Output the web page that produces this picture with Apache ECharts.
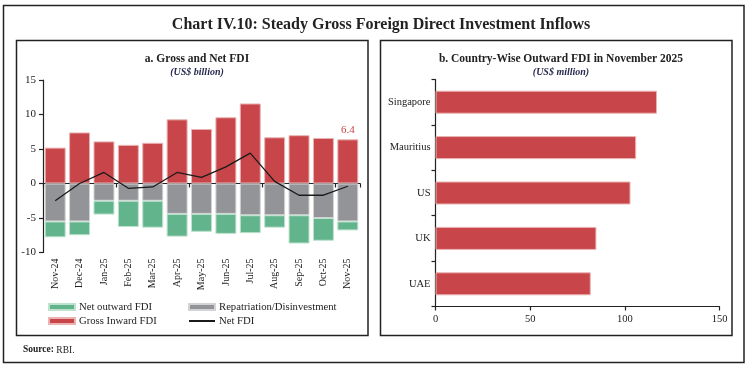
<!DOCTYPE html>
<html>
<head>
<meta charset="utf-8">
<script src="https://cdn.jsdelivr.net/npm/echarts@6/dist/echarts.min.js"></script>
<style>html,body{margin:0;padding:0;background:#fff}#c{width:751px;height:368px}</style>
</head>
<body>
<div id="c"></div>
<script>
const months = ['Nov-24','Dec-24','Jan-25','Feb-25','Mar-25','Apr-25','May-25','Jun-25','Jul-25','Aug-25','Sep-25','Oct-25','Nov-25'];
const grossInward = [5.2, 7.4, 6.1, 5.6, 5.9, 9.3, 7.9, 9.6, 11.6, 6.7, 7.0, 6.6, 6.4];
const repatriation = [-5.5, -5.5, -2.5, -2.5, -2.5, -4.4, -4.4, -4.4, -4.6, -4.6, -4.6, -5.0, -5.5];
const netOutward = [-2.3, -2.0, -2.0, -3.8, -3.9, -3.3, -2.6, -2.9, -2.6, -1.8, -4.1, -3.3, -1.3];
const netFDI = [-2.5, 0.0, 1.6, -0.7, -0.5, 1.6, 0.9, 2.4, 4.4, 0.3, -1.7, -1.7, -0.4];
const leftTicks = [-10, -5, 0, 5, 10, 15];

const countries = ['Singapore','Mauritius','US','UK','UAE'];
const outwardFDI = [117, 106, 103, 85, 82];
const rightTicks = [0, 50, 100, 150];

const FONT = 'Liberation Serif';
const RED = '#C8464A', GRAY = '#939497', GREEN = '#62B48C', INK = '#222';
const last = months.length - 1;

const chart = echarts.init(document.getElementById('c'), null, {renderer: 'canvas'});

const legendCommon = {
  orient: 'horizontal', itemWidth: 26, itemHeight: 6, padding: 0, itemGap: 0,
  textStyle: {fontFamily: FONT, fontSize: 10.7, color: INK, lineHeight: 12, padding: [0, 0, 0, -1]},
  selectedMode: false
};

chart.setOption({
  animation: false,
  textStyle: {fontFamily: FONT},
  title: [
    {text: 'Chart IV.10: Steady Gross Foreign Direct Investment Inflows', left: 376, top: 12, textAlign: 'center',
     textStyle: {fontFamily: FONT, fontSize: 16, fontWeight: 'bold', color: INK}},
    {text: 'a. Gross and Net FDI', left: 192, top: 48, textAlign: 'center',
     textStyle: {fontFamily: FONT, fontSize: 11.5, fontWeight: 'bold', color: INK}},
    {text: '(US$ billion)', left: 192, top: 62, textAlign: 'center',
     textStyle: {fontFamily: FONT, fontSize: 10, fontStyle: 'italic', color: '#2a2a50'}},
    {text: 'b. Country-Wise Outward FDI in November 2025', left: 556, top: 48, textAlign: 'center',
     textStyle: {fontFamily: FONT, fontSize: 11.5, fontWeight: 'bold', color: INK}},
    {text: '(US$ million)', left: 556, top: 62, textAlign: 'center',
     textStyle: {fontFamily: FONT, fontSize: 10, fontStyle: 'italic', color: '#2a2a50'}},
    {text: '{b|Source:} RBI.', left: 18, top: 340,
     textStyle: {fontFamily: FONT, fontSize: 9.5, color: INK, fontWeight: 'normal',
       rich: {b: {fontFamily: FONT, fontSize: 9.5, fontWeight: 'bold', color: INK}}}}
  ],
  graphic: [
    {type: 'rect', shape: {x: 3.5, y: 5.5, width: 740.5, height: 357}, style: {fill: 'none', stroke: INK, lineWidth: 1.5}, silent: true},
    {type: 'rect', shape: {x: 16.5, y: 40.5, width: 351.5, height: 295}, style: {fill: 'none', stroke: INK, lineWidth: 1.5}, silent: true},
    {type: 'rect', shape: {x: 380.5, y: 40.5, width: 351.5, height: 295}, style: {fill: 'none', stroke: INK, lineWidth: 1.5}, silent: true}
  ],
  legend: [
    Object.assign({}, legendCommon, {left: 48, top: 301, data: [{name: 'Net outward FDI', icon: 'rect'}]}),
    Object.assign({}, legendCommon, {left: 48, top: 315, data: [{name: 'Gross Inward FDI', icon: 'rect'}]}),
    Object.assign({}, legendCommon, {left: 188, top: 301, data: [{name: 'Repatriation/Disinvestment', icon: 'rect'}]}),
    Object.assign({}, legendCommon, {left: 188, top: 315, data: [{name: 'Net FDI',
      itemStyle: {color: 'rgba(0,0,0,0)', borderWidth: 0, opacity: 0}}]})
  ],
  grid: [
    {left: 43, top: 80, width: 317, height: 172.5, containLabel: false},
    {left: 435.5, top: 79.5, width: 284, height: 227, containLabel: false}
  ],
  xAxis: [
    {type: 'category', gridIndex: 0, data: months, position: 'bottom',
     axisLine: {onZero: true, lineStyle: {color: INK, width: 1.2}},
     axisTick: {show: true, length: 4, lineStyle: {color: INK, width: 1.2}},
     axisLabel: {show: false}, splitLine: {show: false}},
    {type: 'category', gridIndex: 0, data: months, position: 'bottom',
     axisLine: {show: false, onZero: false}, axisTick: {show: false},
     axisLabel: {show: true, rotate: 90, margin: 6, fontFamily: FONT, fontSize: 10, color: INK, interval: 0},
     splitLine: {show: false}},
    {type: 'value', gridIndex: 1, min: 0, max: 150, interval: 50,
     axisLine: {show: true, onZero: false, lineStyle: {color: INK, width: 1.2}},
     axisTick: {show: true, length: 4, lineStyle: {color: INK, width: 1.2}},
     axisLabel: {margin: 7, fontFamily: FONT, fontSize: 10.5, color: INK,
       customValues: rightTicks},
     splitLine: {show: false}}
  ],
  yAxis: [
    {type: 'value', gridIndex: 0, min: -10, max: 15, interval: 5,
     axisLine: {show: true, onZero: false, lineStyle: {color: INK, width: 1.2}},
     axisTick: {show: true, length: 4, lineStyle: {color: INK, width: 1.2}},
     axisLabel: {margin: 7, fontFamily: FONT, fontSize: 11, color: INK},
     splitLine: {show: false}},
    {type: 'category', gridIndex: 1, data: countries, inverse: true,
     axisLine: {show: true, onZero: false, lineStyle: {color: INK, width: 1.2}},
     axisTick: {show: true, length: 4, lineStyle: {color: INK, width: 1.2}},
     axisLabel: {margin: 5, fontFamily: FONT, fontSize: 10.5, color: INK},
     splitLine: {show: false}}
  ],
  series: [
    {name: 'Gross Inward FDI', type: 'bar', xAxisIndex: 0, yAxisIndex: 0, stack: 'fdi',
     barCategoryGap: '14%',
     itemStyle: {color: RED, borderColor: '#eab3b3', borderWidth: 1},
     data: grossInward.map((v, i) => i === last ? {value: v, label: {show: true, position: 'top', distance: 4,
       formatter: '{c}', fontFamily: FONT, fontSize: 11, color: RED}} : v)},
    {name: 'Repatriation/Disinvestment', type: 'bar', xAxisIndex: 0, yAxisIndex: 0, stack: 'fdi',
     barCategoryGap: '14%',
     itemStyle: {color: GRAY, borderColor: '#d3d3d5', borderWidth: 1},
     data: repatriation},
    {name: 'Net outward FDI', type: 'bar', xAxisIndex: 0, yAxisIndex: 0, stack: 'fdi',
     barCategoryGap: '14%',
     itemStyle: {color: GREEN, borderColor: '#bfe2cf', borderWidth: 1},
     data: netOutward},
    {name: 'Net FDI', type: 'line', xAxisIndex: 0, yAxisIndex: 0, symbol: 'none', showSymbol: false,
     lineStyle: {color: '#1a1a1a', width: 1.3}, itemStyle: {color: '#1a1a1a'}, z: 5,
     data: netFDI.map((v, i) => i === last ? {value: v, label: {show: true, position: 'bottom', distance: 6,
       formatter: '{c}', fontFamily: FONT, fontSize: 11, color: '#333'}} : v)},
    {name: 'Outward FDI', type: 'bar', xAxisIndex: 2, yAxisIndex: 1, barWidth: 23,
     itemStyle: {color: RED, borderColor: '#eab3b3', borderWidth: 1},
     data: outwardFDI}
  ]
});
</script>
</body>
</html>
